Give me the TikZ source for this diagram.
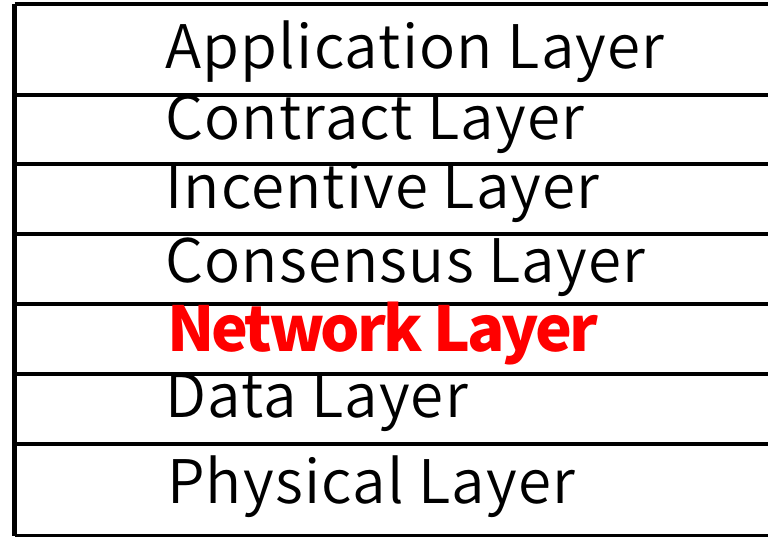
\documentclass[tikz,border=0pt]{standalone}
\usepackage{fontspec}
\newfontfamily\layerfont[LetterSpace=2]{Noto Sans CJK JP DemiLight}
\newfontfamily\hotfont[LetterSpace=-5]{Noto Sans CJK JP}
\begin{document}
\begin{tikzpicture}[x=1pt,y=-1pt]
  \tikzset{
    rule/.style={line width=4.8pt, draw=black},
    layer/.style={anchor=base west, inner sep=0pt, font=\layerfont\fontsize{60}{60}\selectfont},
    hot/.style={anchor=base west, inner sep=0pt, text=red, font=\hotfont\bfseries\fontsize{62}{62}\selectfont}
  }
  \useasboundingbox (0,0) rectangle (768,536);
  \clip (0,0) rectangle (768,536);
  \fill[white] (0,0) rectangle (768,536);

  % layer boundaries, top to bottom
  \foreach \n/\y in {b0/4, b1/95, b2/164, b3/234, b4/304, b5/374, b6/444, b7/536}{
    \coordinate (\n L) at (14.5,\y);
    \coordinate (\n R) at (800,\y);
    \draw[rule] (\n L) -- (\n R);
  }
  \draw[rule] (b0L) -- (b7L);

  % layer names
  \node[layer] (app)  at (165,68)  {Application Layer};
  \node[layer] (con)  at (165,139) {Contract Layer};
  \node[layer] (inc)  at (165,208) {Incentive Layer};
  \node[layer] (cns)  at (165,282) {Consensus Layer};
  \node[hot]   (net)  at (167,351) {Network Layer};
  \node[layer] (dat)  at (165,417) {Data Layer};
  \node[layer] (phy)  at (167,503) {Physical Layer};
\end{tikzpicture}
\end{document}
